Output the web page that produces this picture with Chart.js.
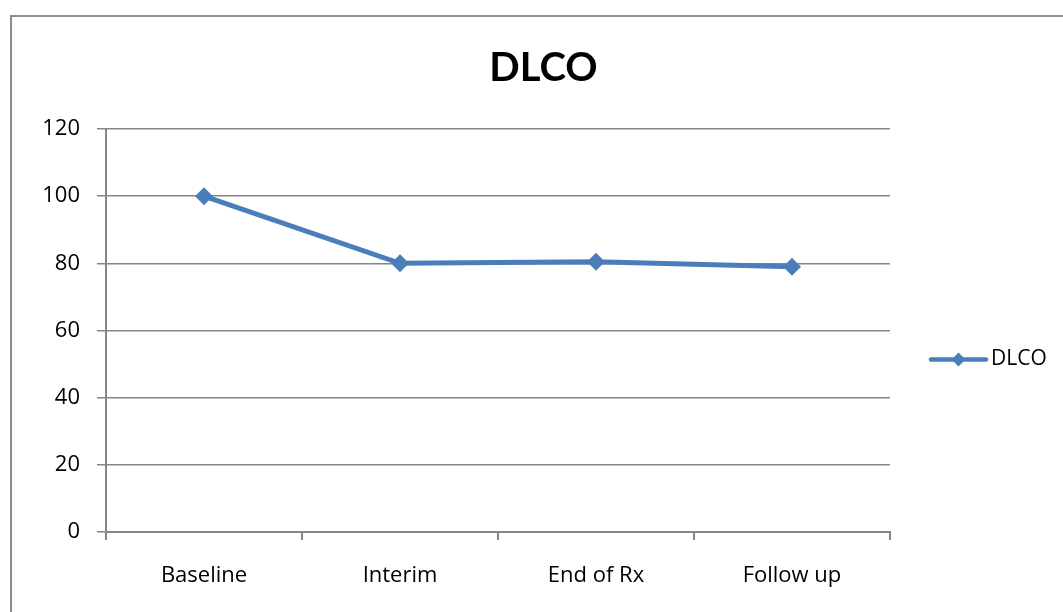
<!DOCTYPE html>
<html>
<head>
<meta charset="utf-8">
<script src="https://cdn.jsdelivr.net/npm/chart.js@4/dist/chart.umd.min.js"></script>
<style>
  html, body { margin: 0; padding: 0; background: #fff; }
  #wrap { position: relative; width: 1063px; height: 612px; }
</style>
</head>
<body>
<div id="wrap"><canvas id="c" width="1063" height="612"></canvas></div>
<script>
// Time points and DLCO values
const categories = ['Baseline', 'Interim', 'End of Rx', 'Follow up'];
const dlcoValues = [100, 80, 80.5, 79];
const yTicks = [0, 20, 40, 60, 80, 100, 120];

const FONT = "'Open Sans', Lato, 'Liberation Sans', sans-serif";
const TITLE_FONT = "Lato, 'Liberation Sans', sans-serif";
const BLUE = '#4A7EBB';
const GRID = '#868686';

// Outer frame around the chart
const framePlugin = {
  id: 'frame',
  beforeDraw(chart) {
    const ctx = chart.ctx;
    ctx.save();
    ctx.fillStyle = '#fff';
    ctx.fillRect(0, 0, chart.width, chart.height);
    ctx.strokeStyle = '#8c8c8c';
    ctx.lineWidth = 2;
    ctx.strokeRect(11, 16, chart.width + 20, chart.height + 20);
    ctx.restore();
  }
};

// Legend to the right: line segment with a diamond marker, then the label
const sideLegend = {
  id: 'sideLegend',
  afterDraw(chart) {
    const ctx = chart.ctx;
    const ds = chart.data.datasets[0];
    const area = chart.chartArea;
    const y = (area.top + area.bottom) / 2 + 29;
    const x0 = 931, x1 = 986, xm = (x0 + x1) / 2;
    ctx.save();
    ctx.strokeStyle = ds.borderColor;
    ctx.lineWidth = 4.5;
    ctx.lineCap = 'round';
    ctx.beginPath();
    ctx.moveTo(x0, y);
    ctx.lineTo(x1, y);
    ctx.stroke();
    const r = 7;
    ctx.fillStyle = ds.pointBackgroundColor;
    ctx.beginPath();
    ctx.moveTo(xm, y - r);
    ctx.lineTo(xm + r, y);
    ctx.lineTo(xm, y + r);
    ctx.lineTo(xm - r, y);
    ctx.closePath();
    ctx.fill();
    ctx.fillStyle = '#000';
    ctx.font = '21px ' + FONT;
    ctx.textBaseline = 'middle';
    ctx.textAlign = 'left';
    ctx.fillText(ds.label, 991, y);
    ctx.restore();
  }
};

new Chart(document.getElementById('c'), {
  type: 'line',
  data: {
    labels: categories,
    datasets: [{
      label: 'DLCO',
      data: dlcoValues,
      borderColor: BLUE,
      backgroundColor: BLUE,
      borderWidth: 5,
      pointStyle: 'rectRot',
      pointRadius: 9,
      pointHoverRadius: 9,
      pointBackgroundColor: BLUE,
      pointBorderColor: BLUE,
      pointBorderWidth: 0,
      tension: 0
    }]
  },
  options: {
    responsive: false,
    animation: false,
    events: [],
    layout: { padding: { left: 24, right: 0, top: 0, bottom: 0 } },
    plugins: {
      legend: { display: false },
      tooltip: { enabled: false },
      title: {
        display: true,
        text: 'DLCO',
        color: '#000',
        font: { family: TITLE_FONT, size: 40, weight: 'bold' },
        padding: { top: 44, bottom: 37 }
      }
    },
    scales: {
      x: {
        offset: true,
        grid: {
          display: true,
          offset: true,
          drawOnChartArea: false,
          drawTicks: true,
          tickLength: 8,
          tickColor: GRID,
          lineWidth: 2
        },
        border: { display: true, color: GRID, width: 2 },
        ticks: {
          color: '#000',
          font: { family: FONT, size: 22 },
          padding: 23,
          maxRotation: 0
        },
        afterFit(scale) { scale.height = 80; }
      },
      y: {
        min: 0,
        max: 120,
        afterBuildTicks(scale) { scale.ticks = yTicks.map(v => ({ value: v })); },
        grid: {
          color: GRID,
          lineWidth: 1.5,
          drawTicks: true,
          tickLength: 9,
          tickColor: GRID
        },
        border: { display: true, color: GRID, width: 2 },
        ticks: {
          color: '#000',
          font: { family: FONT, size: 22 },
          padding: 17
        },
        afterFit(scale) { scale.width = 82; }
      },
      // empty axis on the right that keeps room for the legend
      side: {
        position: 'right',
        display: true,
        grid: { display: false, drawTicks: false },
        border: { display: false },
        ticks: { display: false },
        afterFit(scale) { scale.width = 173; }
      }
    }
  },
  plugins: [framePlugin, sideLegend]
});
</script>
</body>
</html>
